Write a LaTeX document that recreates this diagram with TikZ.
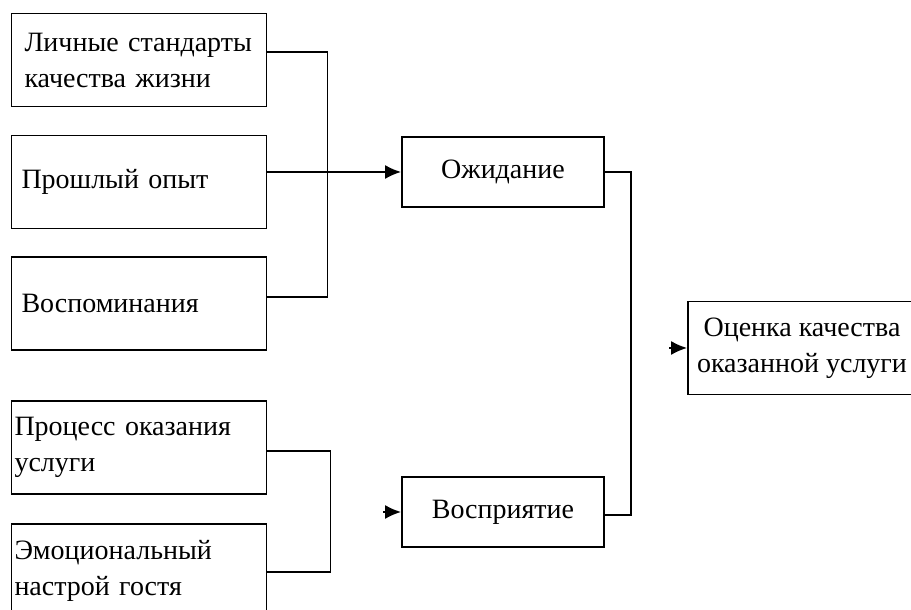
\documentclass[tikz,border=0pt]{standalone}
\usepackage{fontspec}
\setmainfont{Liberation Serif}
\usetikzlibrary{arrows.meta}

\begin{document}
\begin{tikzpicture}[x=1pt,y=1pt,line width=1.8pt,>={Latex[length=16pt,width=14pt]}]
    \tikzstyle{box}=[rectangle,draw=black,minimum height=93pt,align=left,font=\fontsize{28}{36}\selectfont]
    \tikzstyle{mid}=[box,minimum width=202pt,minimum height=70pt,align=center]
    \useasboundingbox (0,0) rectangle (911,610);

    \foreach \name/\y/\sep/\txt in {src1/550/13/{Личные стандарты\\качества жизни},
                                   src2/428/10/{Прошлый опыт},
                                   src3/306.5/10/{Воспоминания},
                                   src4/162.5/3/{Процесс оказания\\услуги},
                                   src5/39.5/3/{Эмоциональный\\настрой гостя}}
    {
        \pgfmathsetmacro\tw{255-2*\sep}
        \node[box,inner xsep=\sep pt,text width=\tw pt] (\name) at (139,\y) {\txt};
    }

    \node[mid] (exp) at (503,438) {Ожидание};
    \node[mid] (per) at (503,98) {Восприятие};
    \node[box,minimum width=228pt,align=center,inner xsep=2pt] (res) at (802,262) {Оценка качества\\оказанной услуги};

    \draw ([yshift=8pt]src1.east) -- ++(60,0) |- ([yshift=6.5pt]src3.east);
    \draw[->] (src2.east |- exp.west) -- (exp.west);
    \draw ([yshift=-3.5pt]src4.east) -- ++(63,0) |- ([yshift=-1.5pt]src5.east);
    \draw (exp.east) -- ++(26,0) |- ([yshift=-3pt]per.east);

    % arrow stubs with no line behind them
    \draw[->] ([xshift=-18pt]per.west) -- (per.west);
    \draw[->] ([xshift=-18pt]res.west) -- (res.west);
\end{tikzpicture}
\end{document}
